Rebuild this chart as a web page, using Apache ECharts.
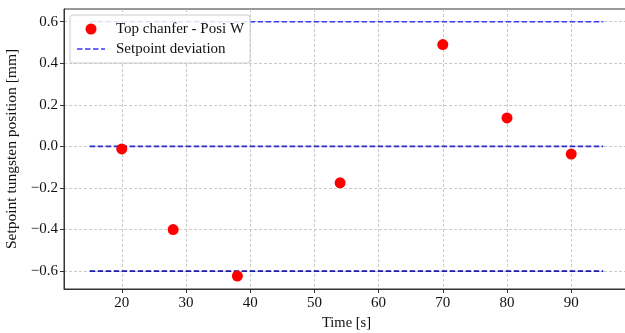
<!DOCTYPE html>
<html>
<head>
<meta charset="utf-8">
<script src="https://cdn.jsdelivr.net/npm/echarts@6/dist/echarts.min.js"></script>
<style>
  html, body { margin: 0; padding: 0; background: #fff; }
  #chart { width: 625px; height: 333px; }
</style>
</head>
<body>
<div id="chart"></div>
<script>
// measured points
const timeS = [20, 28, 38, 54, 70, 80, 90];
const posW = [-0.012, -0.40, -0.624, -0.175, 0.49, 0.137, -0.037];

// setpoint deviation band, drawn from 15 s to 95 s
const setpointSpan = [15, 95];
const setpointLevels = [0.6, 0.0, -0.6];
const setpointColors = ["#3a3aff", "#2a2ad0", "#1c1caa"];

const xTicks = [20, 30, 40, 50, 60, 70, 80, 90];
const yTicks = [-0.6, -0.4, -0.2, 0.0, 0.2, 0.4, 0.6];

const font = "Liberation Serif";
// dashed stroke for the legend entry
const dashIcon = "path://M0,0h5.5v1.6h-5.5z M8,0h5.5v1.6h-5.5z M16,0h5.5v1.6h-5.5z M24,0h4v1.6h-4z";

const chart = echarts.init(document.getElementById("chart"), null, { renderer: "canvas" });

const series = [];
for (let i = 0; i < setpointLevels.length; i++) {
  series.push({
    name: "Setpoint deviation",
    type: "line",
    symbol: "none",
    silent: true,
    z: 2,
    lineStyle: { color: setpointColors[i], width: 1.6, type: [5.5, 2.5] },
    itemStyle: { color: setpointColors[i] },
    data: setpointSpan.map(t => [t, setpointLevels[i]])
  });
}
series.push({
  name: "Top chanfer - Posi W",
  type: "scatter",
  symbol: "circle",
  symbolSize: 11,
  z: 5,
  itemStyle: { color: "#ff0000", opacity: 1 },
  data: timeS.map((t, i) => [t, posW[i]])
});

const option = {
  animation: false,
  backgroundColor: "#fff",
  textStyle: { fontFamily: font },
  grid: {
    left: 64, right: -4, top: 9, bottom: 44,
    outerBoundsMode: "none",
    containLabel: false,
    show: true, borderColor: "#333", borderWidth: 1, backgroundColor: "transparent"
  },
  legend: {
    left: 70, top: 15,
    orient: "vertical",
    data: [
      { name: "Top chanfer - Posi W", icon: "circle" },
      { name: "Setpoint deviation", icon: dashIcon, itemStyle: { color: "#3a3aff" } }
    ],
    itemWidth: 28, itemHeight: 11, itemGap: 4,
    padding: [6, 6, 6, 7],
    backgroundColor: "rgba(255,255,255,0.85)",
    borderColor: "#cccccc", borderWidth: 1, borderRadius: 3,
    textStyle: { fontFamily: font, fontSize: 15, color: "#111", lineHeight: 16, padding: [0, 0, 0, 6] },
    selectedMode: false
  },
  xAxis: {
    type: "value",
    min: 11, max: 99,
    name: "Time [s]",
    nameLocation: "middle",
    nameGap: 21,
    nameTextStyle: { fontFamily: font, fontSize: 14.5, color: "#111" },
    axisLine: { show: true, onZero: false, lineStyle: { color: "#333", width: 1 } },
    axisTick: { show: true, length: 4, customValues: xTicks, lineStyle: { color: "#333" } },
    axisLabel: { customValues: xTicks, margin: 7, fontFamily: font, fontSize: 15, color: "#111" },
    splitLine: { show: true, lineStyle: { color: "#bdbdbd", width: 0.8, type: [3, 2] } }
  },
  yAxis: {
    type: "value",
    min: -0.686, max: 0.661,
    name: "Setpoint tungsten position [mm]",
    nameLocation: "middle",
    nameGap: 38,
    nameTextStyle: { fontFamily: font, fontSize: 15.5, color: "#111" },
    axisLine: { show: true, onZero: false, lineStyle: { color: "#333", width: 1 } },
    axisTick: { show: true, length: 4, customValues: yTicks, lineStyle: { color: "#333" } },
    axisLabel: {
      customValues: yTicks, margin: 6, fontFamily: font, fontSize: 15, color: "#111",
      formatter: v => v.toFixed(1).replace("-", "\u2212")
    },
    splitLine: { show: true, lineStyle: { color: "#bdbdbd", width: 0.8, type: [3, 2] } }
  },
  series: series
};

chart.setOption(option);
</script>
</body>
</html>
